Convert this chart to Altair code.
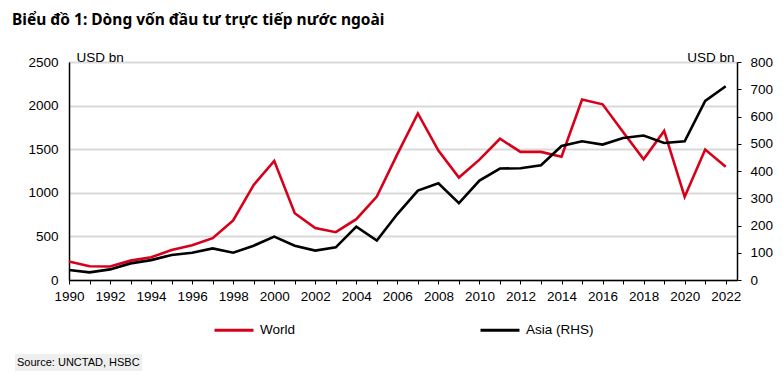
import altair as alt
import pandas as pd

years = list(range(1990, 2023))
world = [212, 158, 155, 222, 260, 343, 398, 480, 683, 1090, 1366, 766, 597, 548, 698, 956,
         1443, 1910, 1485, 1175, 1380, 1620, 1469, 1469, 1414, 2069, 2015, 1698, 1385, 1710,
         954, 1496, 1298]
asia = [37, 28, 39, 61, 73, 92, 100, 116, 100, 126, 159, 126, 108, 120, 196, 145,
        242, 328, 355, 282, 365, 409, 410, 421, 492, 509, 497, 521, 530, 503,
        509, 657, 711]

series_names = ["World", "Asia (RHS)"]
series_colors = ["#D7001A", "#000000"]

df_w = pd.DataFrame({"year": years, "value": world, "series": series_names[0]})
df_a = pd.DataFrame({"year": years, "value": asia, "series": series_names[1]})

FONT = "Liberation Sans Narrow, Arial Narrow, Liberation Sans, Arial"
FS = 13.5

color = alt.Color(
    "series:N",
    scale=alt.Scale(domain=series_names, range=series_colors),
    legend=alt.Legend(
        title=None, orient="none", legendX=144, legendY=247, direction="horizontal",
        columns=2, columnPadding=178, symbolType="stroke", symbolStrokeWidth=3,
        symbolSize=1521, labelFont=FONT, labelFontSize=FS, labelColor="#000",
        labelOffset=5, padding=0,
    ),
)

xenc = alt.X(
    "year:Q",
    scale=alt.Scale(domain=[1990, 2022.55], nice=False, zero=False),
    axis=alt.Axis(
        title=None, values=years, format="d",
        labelExpr="datum.value % 2 == 0 ? datum.label : ''",
        tickSize=4, tickColor="#000", tickWidth=1, grid=False,
        labelFont=FONT, labelFontSize=FS, labelColor="#000", labelPadding=5,
        domainColor="#000", domainWidth=1.5, labelFlush=False,
    ),
)

left = alt.Chart(df_w).mark_line(strokeWidth=2.6).encode(
    x=xenc,
    y=alt.Y(
        "value:Q",
        scale=alt.Scale(domain=[0, 2500], nice=False),
        axis=alt.Axis(
            orient="left", values=[0, 500, 1000, 1500, 2000, 2500], ticks=False,
            format="d",
            grid=True, gridColor="#d9d9d9", gridWidth=2,
            labelFont=FONT, labelFontSize=FS, labelColor="#000", labelPadding=11,
            domainColor="#000", domainWidth=1.5,
            title="USD bn", titleAngle=0, titleAlign="left", titleBaseline="alphabetic",
            titleX=7, titleY=-1, titleFont=FONT, titleFontSize=FS,
            titleFontWeight="normal", titleColor="#000",
        ),
    ),
    color=color,
)

right = alt.Chart(df_a).mark_line(strokeWidth=2.6).encode(
    x=xenc,
    y=alt.Y(
        "value:Q",
        scale=alt.Scale(domain=[0, 800], nice=False),
        axis=alt.Axis(
            orient="right", values=[0, 100, 200, 300, 400, 500, 600, 700, 800],
            format="d",
            ticks=True, tickSize=4, tickColor="#000", grid=False,
            labelFont=FONT, labelFontSize=FS, labelColor="#000", labelPadding=9,
            domainColor="#000", domainWidth=1.5,
            title="USD bn", titleAngle=0, titleAlign="right", titleBaseline="alphabetic",
            titleX=-3, titleY=-1, titleFont=FONT, titleFontSize=FS,
            titleFontWeight="normal", titleColor="#000",
        ),
    ),
    color=color,
)

src_bg = alt.Chart(pd.DataFrame({"k": [0]})).mark_rect(color="#efefef").encode(
    x=alt.value(-54), x2=alt.value(73), y=alt.value(292), y2=alt.value(309)
)
src = alt.Chart(pd.DataFrame({"t": ["Source: UNCTAD, HSBC"]})).mark_text(
    align="left", baseline="middle", font=FONT, fontSize=11, color="#000"
).encode(text="t:N", x=alt.value(-52), y=alt.value(300.5))

chart = (
    alt.layer(left, right, src_bg, src)
    .resolve_scale(y="independent")
    .properties(
        width=668, height=218,
        autosize=alt.AutoSizeParams(type="none"),
        padding={"left": 61, "top": 54, "right": 39, "bottom": 95},
        title=alt.TitleParams(
            "Biểu đồ 1: Dòng vốn đầu tư trực tiếp nước ngoài",
            anchor="start", frame="group", dx=-57, dy=-12, offset=10,
            font="Noto Sans", fontSize=15.5, fontWeight="bold", color="#000",
        ),
    )
    .configure_view(stroke=None)
    .configure(background="white")
)

chart.save("out.html", embed_options={"renderer": "svg", "actions": False})
